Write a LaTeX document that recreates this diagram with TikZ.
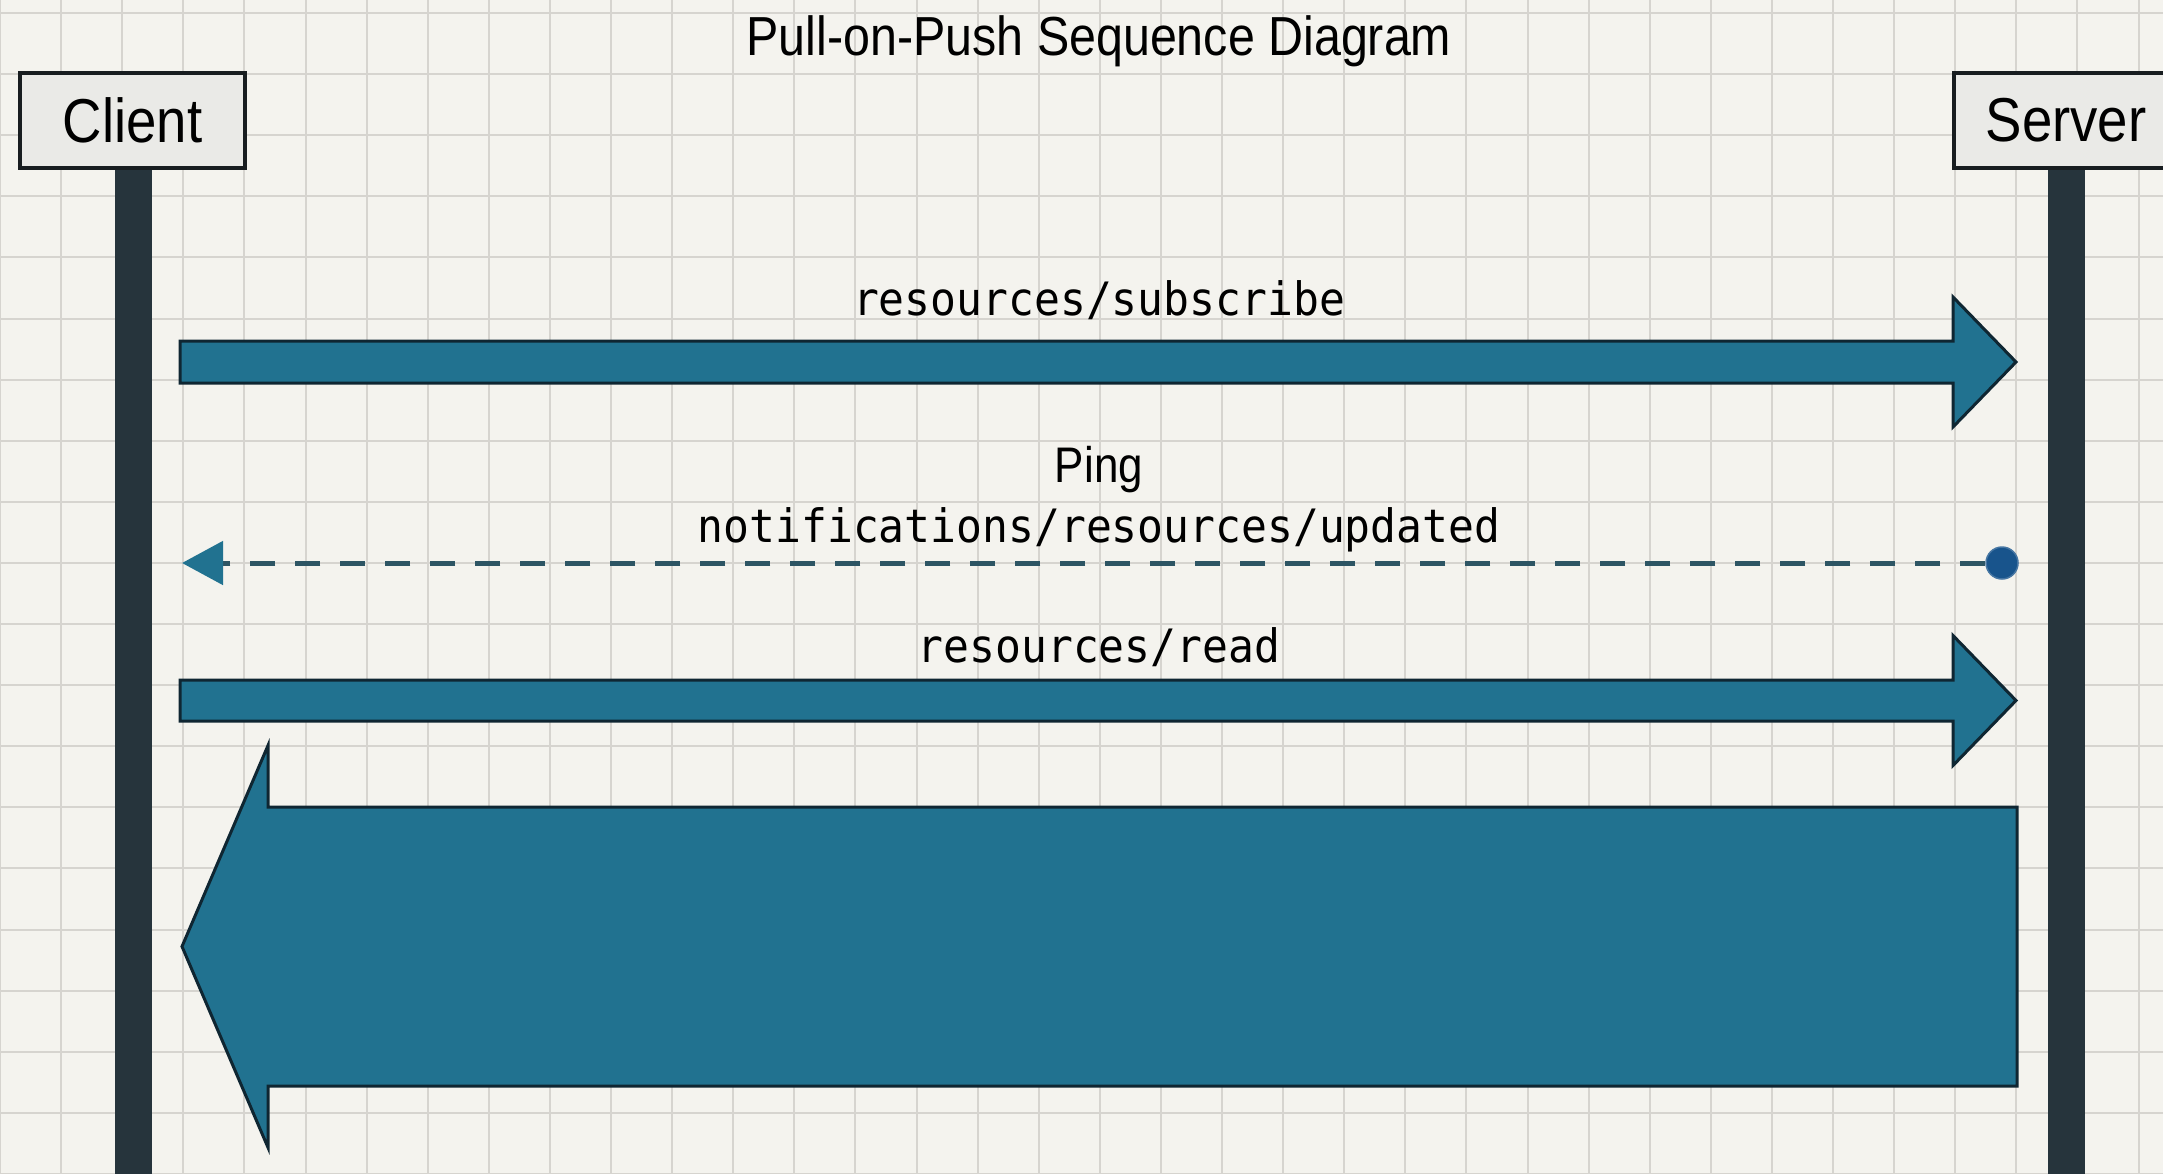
\documentclass[tikz,border=0pt]{standalone}
\usepackage{fontspec}
\setmainfont[FakeStretch=0.88]{Liberation Sans}
\newfontfamily\labelmono[FakeStretch=0.935]{DejaVu Sans Mono}
\usetikzlibrary{arrows.meta,calc}

\definecolor{paper}{RGB}{244,243,238}
\definecolor{gridline}{RGB}{214,212,207}
\definecolor{lifecol}{RGB}{38,52,60}
\definecolor{boxfill}{RGB}{234,234,231}
\definecolor{boxline}{RGB}{24,29,32}
\definecolor{msgfill}{RGB}{33,114,144}
\definecolor{msgline}{RGB}{15,38,50}
\definecolor{dashcol}{RGB}{45,85,100}
\definecolor{dotblue}{RGB}{24,84,140}

% Block arrow: from (#1) to the tip (#2), half shaft #3, half head #4, head length #5
\newcommand{\blockmsgright}[5]{%
  \draw[msgshape] let \p1=(#1), \p2=(#2) in
    (\x1,\y1+#3pt) -- (\x2-#5pt,\y1+#3pt) -- (\x2-#5pt,\y1+#4pt) -- (\x2,\y1)
    -- (\x2-#5pt,\y1-#4pt) -- (\x2-#5pt,\y1-#3pt) -- (\x1,\y1-#3pt) -- cycle;}
\newcommand{\blockmsgleft}[5]{%
  \draw[msgshape] let \p1=(#1), \p2=(#2) in
    (\x1,\y1+#3pt) -- (\x2+#5pt,\y1+#3pt) -- (\x2+#5pt,\y1+#4pt) -- (\x2,\y1)
    -- (\x2+#5pt,\y1-#4pt) -- (\x2+#5pt,\y1-#3pt) -- (\x1,\y1-#3pt) -- cycle;}

\tikzset{
  actor/.style={draw=boxline, fill=boxfill, line width=4pt, minimum width=225pt,
    minimum height=95pt, inner sep=0pt,
    font=\fontsize{62}{70}\selectfont},
  lifeline/.style={draw=lifecol, line width=37pt},
  msgshape/.style={fill=msgfill, draw=msgline, line width=3pt, line join=miter},
  msglabel/.style={anchor=base, inner sep=0pt, text=black,
    font=\labelmono\fontsize{46}{52}\selectfont},
  sanslabel/.style={anchor=base, inner sep=0pt, text=black,
    font=\fontsize{50}{56}\selectfont},
  pingline/.style={draw=dashcol, line width=5pt, dash pattern=on 25pt off 20pt},
}

\begin{document}
\begin{tikzpicture}[x=1pt, y=-1pt]
  \useasboundingbox (0,0) rectangle (2163,1173);
  \clip (0,0) rectangle (2163,1173);

  % paper and grid
  \fill[paper] (0,0) rectangle (2163,1173);
  \foreach \k in {0,...,35} {
    \draw[gridline, line width=2pt] ({61.1*\k},0) -- ({61.1*\k},1173);
  }
  \foreach \k in {0,...,19} {
    \draw[gridline, line width=2pt] (0,{13+61.1*\k}) -- (2163,{13+61.1*\k});
  }

  % title
  \node[sanslabel, font=\fontsize{55}{62}\selectfont] (title) at (1099,55)
    {Pull-on-Push Sequence Diagram};

  % lifelines, then the participant boxes on top of them
  \coordinate (client-top) at (133.5,168);
  \coordinate (server-top) at (2066,168);
  \coordinate (client-end) at (133.5,1180);
  \coordinate (server-end) at (2066,1180);
  \draw[lifeline] (client-top) -- (client-end);
  \draw[lifeline] (server-top) -- (server-end);
  \node[actor] (client) at (132.5,120.5) {Client};
  \node[actor] (server) at (2066,120.5) {Server};

  % message end points
  \coordinate (sub-from) at (180,362);
  \coordinate (sub-to) at (2016,362);
  \coordinate (read-from) at (180,700.5);
  \coordinate (read-to) at (2016,700.5);
  \coordinate (resp-from) at (2017,946.5);
  \coordinate (resp-to) at (182,946.5);
  \coordinate (ping-to) at (182,563);
  \node[circle, fill=dotblue, draw=dotblue!80!white, line width=1.5pt,
        minimum size=32pt, inner sep=0pt] (ping-from) at (2002,563) {};

  % resources/subscribe
  \blockmsgright{sub-from}{sub-to}{21}{65}{63}
  \node[msglabel] (sub-label) at (1099,315) {resources/subscribe};

  % ping notification
  \draw[pingline, -{Triangle[length=41pt, width=43pt, color=msgfill]}]
    (ping-from.west) -- (ping-to);
  \node[sanslabel] (ping-label) at (1099,482) {Ping};
  \node[msglabel] (notif-label) at (1099,542) {notifications/resources/updated};

  % resources/read
  \blockmsgright{read-from}{read-to}{20.5}{65}{63}
  \node[msglabel] (read-label) at (1099,662) {resources/read};

  % response
  \blockmsgleft{resp-from}{resp-to}{139.5}{201}{86}
\end{tikzpicture}
\end{document}
